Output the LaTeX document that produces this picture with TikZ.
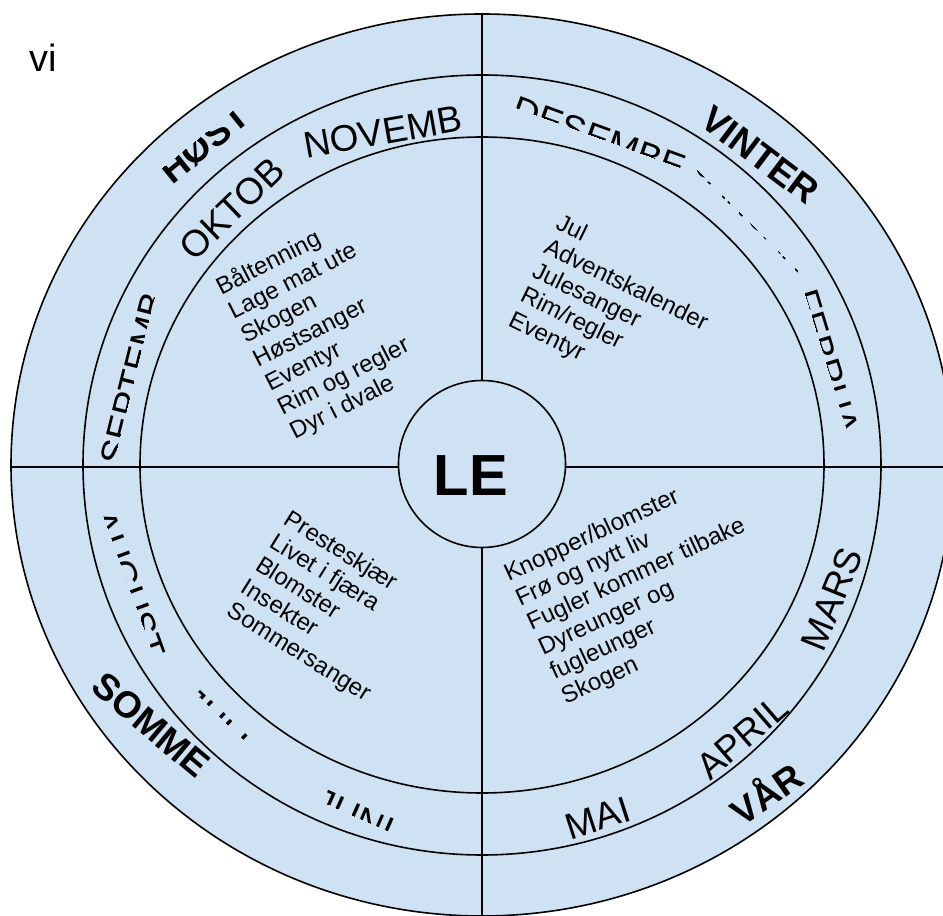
\documentclass[tikz,border=0pt]{standalone}
\usepackage{fontspec}
\setmainfont{Liberation Sans}
\definecolor{ringblue}{HTML}{CFE2F3}

% label that is only partly shown: style, name, x, y, angle, clip from, clip to, text
\newcommand{\cutlabel}[8]{%
	\begin{scope}
		\clip[shift={(#3,#4)}, rotate=#5] (-130,#6) rectangle (130,#7);
		\node[#1, rotate=#5] (#2) at (#3,#4) {#8};
	\end{scope}}

\begin{document}
\begin{tikzpicture}[x=0.5pt, y=0.5pt,
	ring/.style={draw, line width=0.8pt},
	month/.style={inner sep=0pt, font=\fontsize{18.5}{20}\selectfont},
	season/.style={inner sep=0pt, font=\fontsize{18.5}{20}\selectfont\bfseries},
	list/.style={inner sep=0pt, align=left, anchor=north west, font=\fontsize{12}{13.5}\selectfont}]
	\useasboundingbox (0,0) rectangle (943,916);
	\clip (0,0) rectangle (943,916);

	\coordinate (c) at (482,451);
	\fill[ringblue] (c) ellipse (471 and 451);
	\begin{scope}
		\clip (c) ellipse (471 and 451);
		\draw[line width=0.8pt] (0,449) -- (943,449);
		\draw[line width=0.8pt] (482,0) -- (482,916);
	\end{scope}
	\draw[ring] (c) ellipse (471 and 451);
	\draw[ring] (c) ellipse (399 and 390);
	\draw[ring] (c) ellipse (342 and 328);
	\filldraw[ring, fill=ringblue] (482,452) circle (83.5);

	% midten
	\node[inner sep=0pt, font=\fontsize{19}{21}\selectfont] (vi) at (43,858) {vi};
	\node[inner sep=0pt, font=\fontsize{29}{32}\selectfont\bfseries] (le) at (471,440) {LE};

	% maaneder og aarstider
	\foreach \txt/\x/\y/\a [count=\i] in {NOVEMB/383/784/10, OKTOB/232/707/44, MARS/832/317/68, APRIL/742/179/41, MAI/598/98/18} {
		\node[month, rotate=\a] (mnd\i) at (\x,\y) {\txt};
	}
	\foreach \txt/\x/\y/\a [count=\i] in {VINTER/760/761/-37, VÅR/765/124/35, SOMME/151/191/-40} {
		\node[season, rotate=\a] (tid\i) at (\x,\y) {\txt};
	}
	\cutlabel{month}{sep}{134}{537}{76}{0}{20}{SEPTEMB}
	\cutlabel{month}{des}{599}{778}{-20}{0}{20}{DESEMBE}
	\cutlabel{month}{jan}{756}{703}{-45}{-20}{-11}{JANUAR}
	\cutlabel{month}{feb}{826}{553}{-73}{0}{20}{FEBRUA}
	\cutlabel{month}{jun}{354}{100}{-24}{0}{20}{JUNI}
	\cutlabel{month}{jul}{214}{195}{-44}{7}{20}{JULI}
	\cutlabel{month}{aug}{128}{331}{-70}{0}{20}{AUGUST}
	\cutlabel{season}{host}{204}{773}{39}{-20}{7}{HØST}

	% aktiviteter
	\node[list, rotate=27] (hostliste) at (212,638) {Båltenning\\Lage mat ute\\Skogen\\Høstsanger\\Eventyr\\Rim og regler\\Dyr i dvale};
	\node[list, rotate=-26] (vinterliste) at (562,704) {Jul\\Adventskalender\\Julesanger\\Rim/regler\\Eventyr};
	\node[list, rotate=25] (vaarliste) at (501,350) {Knopper/blomster\\Frø og nytt liv\\Fugler kommer tilbake\\Dyreunger og\\fugleunger\\Skogen};
	\node[list, rotate=-32] (sommerliste) at (292,408) {Presteskjær\\Livet i fjæra\\Blomster\\Insekter\\Sommersanger};
\end{tikzpicture}
\end{document}
